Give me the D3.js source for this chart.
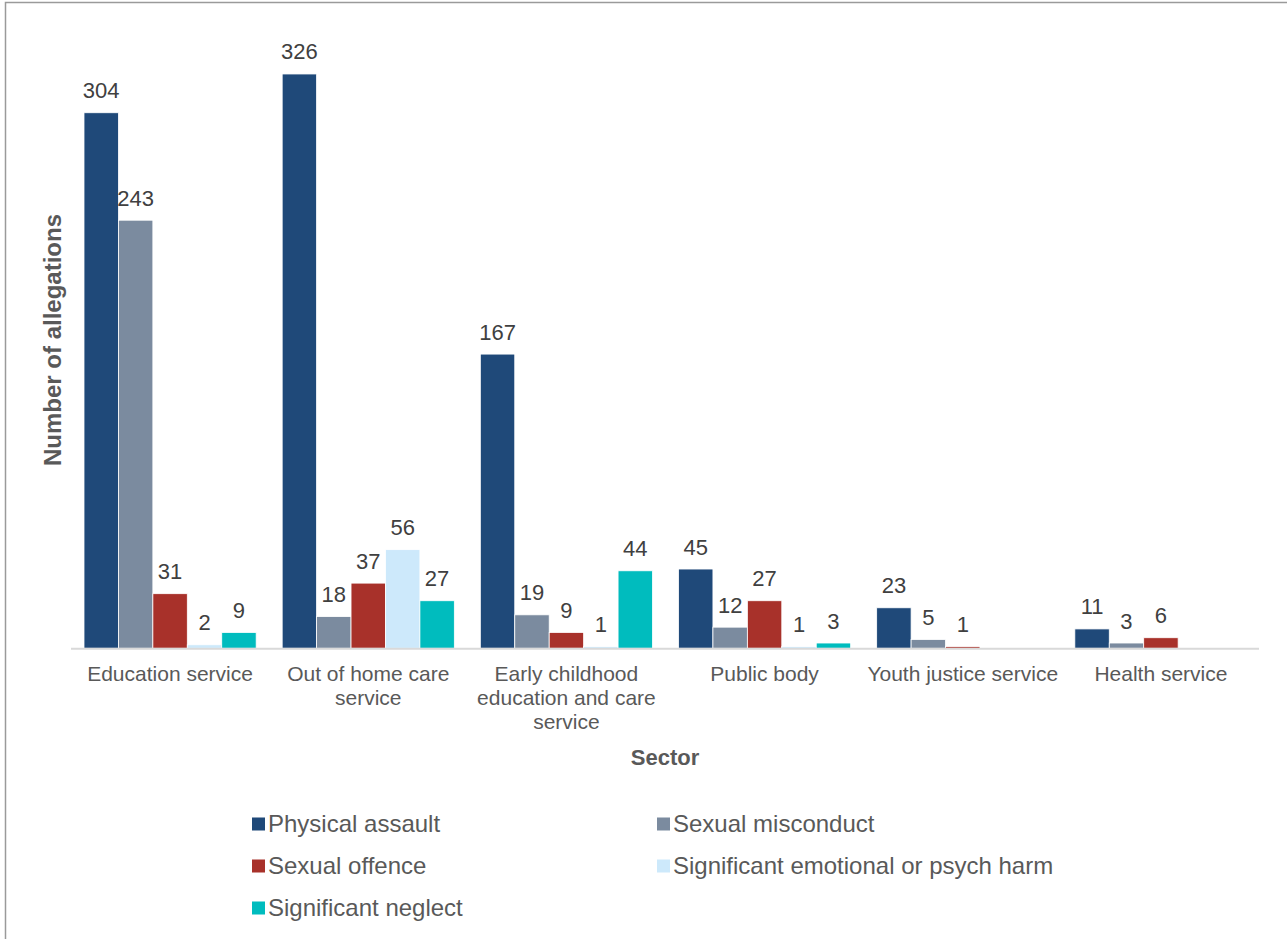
<!DOCTYPE html>
<html>
<head>
<meta charset="utf-8">
<script src="https://cdnjs.cloudflare.com/ajax/libs/d3/7.8.5/d3.min.js"></script>
<style>
  body { margin: 0; background: #fff; }
  svg { display: block; font-family: "Liberation Sans", Arial, sans-serif; }
</style>
</head>
<body>
<svg id="chart" width="1287" height="939"></svg>
<script>
// Sectors (x categories), two-line labels split with "|"
var sectors = ["Education service", "Out of home care|service",
               "Early childhood|education and care|service", "Public body",
               "Youth justice service", "Health service"];

var series = ["Physical assault", "Sexual misconduct", "Sexual offence",
              "Significant emotional or psych harm", "Significant neglect"];
var colors = ["#1f4979", "#7b8b9f", "#a8312a", "#cde9fb", "#00bcbe"];

// values per series, in sector order (null = no bar)
var physical_assault  = [304, 326, 167, 45, 23, 11];
var sexual_misconduct = [243, 18, 19, 12, 5, 3];
var sexual_offence    = [31, 37, 9, 27, 1, 6];
var emotional_harm    = [2, 56, 1, 1, null, null];
var neglect           = [9, 27, 44, 3, null, null];

var values = [physical_assault, sexual_misconduct, sexual_offence, emotional_harm, neglect];

var svg = d3.select('#chart');

// outer chart border
svg.append('rect')
  .attr('x', 5.5).attr('y', 2.5)
  .attr('width', 1300).attr('height', 1000)
  .attr('fill', 'none')
  .attr('stroke', '#9a9a9a')
  .attr('stroke-width', 1.5);

var x0 = d3.scaleBand()
  .domain(d3.range(sectors.length))
  .range([71, 1260])
  .padding(0);

var x1 = d3.scaleBand()
  .domain(d3.range(series.length))
  .range([13, x0.bandwidth() - 13])
  .padding(0);

var y = d3.scaleLinear()
  .domain([0, 350])
  .range([648.3, 31.7]);

// bars
var g = svg.append('g');
values.forEach(function(vals, s) {
  var data = vals.map(function(v, i) { return {v: v, i: i}; })
    .filter(function(d) { return d.v != null; });

  g.selectAll('rect.s' + s)
    .data(data)
    .enter().append('rect')
    .attr('class', 's' + s)
    .attr('x', function(d) { return x0(d.i) + x1(s); })
    .attr('y', function(d) { return y(d.v); })
    .attr('width', x1.bandwidth())
    .attr('height', function(d) { return y(0) - y(d.v); })
    .attr('fill', colors[s])
    .attr('stroke', '#fff')
    .attr('stroke-width', 0.8);

  g.selectAll('text.s' + s)
    .data(data)
    .enter().append('text')
    .attr('class', 's' + s)
    .attr('x', function(d) { return x0(d.i) + x1(s) + x1.bandwidth() / 2; })
    .attr('y', function(d) { return y(d.v) - 14.5; })
    .attr('text-anchor', 'middle')
    .attr('font-size', 22)
    .attr('fill', '#404040')
    .text(function(d) { return d.v; });
});

// baseline
svg.append('line')
  .attr('x1', 71).attr('x2', 1259)
  .attr('y1', y(0) + 0.5).attr('y2', y(0) + 0.5)
  .attr('stroke', '#d9d9d9')
  .attr('stroke-width', 2);

// category labels
sectors.forEach(function(name, i) {
  var t = svg.append('text')
    .attr('text-anchor', 'middle')
    .attr('font-size', 21)
    .attr('fill', '#595959');
  name.split('|').forEach(function(line, k) {
    t.append('tspan')
      .attr('x', x0(i) + x0.bandwidth() / 2)
      .attr('y', 681 + k * 24)
      .text(line);
  });
});

// axis titles
svg.append('text')
  .attr('x', 665).attr('y', 765)
  .attr('text-anchor', 'middle')
  .attr('font-size', 22)
  .attr('font-weight', 'bold')
  .attr('fill', '#595959')
  .text('Sector');

svg.append('text')
  .attr('transform', 'translate(61,340) rotate(-90)')
  .attr('text-anchor', 'middle')
  .attr('font-size', 24)
  .attr('font-weight', 'bold')
  .attr('fill', '#595959')
  .text('Number of allegations');

// legend
var legendX = [252, 657];
var legend = svg.append('g');
series.forEach(function(name, s) {
  var col = s % 2, row = Math.floor(s / 2);
  var lx = legendX[col], ly = 824 + row * 42;
  legend.append('rect')
    .attr('x', lx).attr('y', ly - 6.5)
    .attr('width', 13).attr('height', 13)
    .attr('fill', colors[s]);
  legend.append('text')
    .attr('x', lx + 16).attr('y', ly + 8)
    .attr('font-size', 24)
    .attr('fill', '#595959')
    .text(name);
});
</script>
</body>
</html>
